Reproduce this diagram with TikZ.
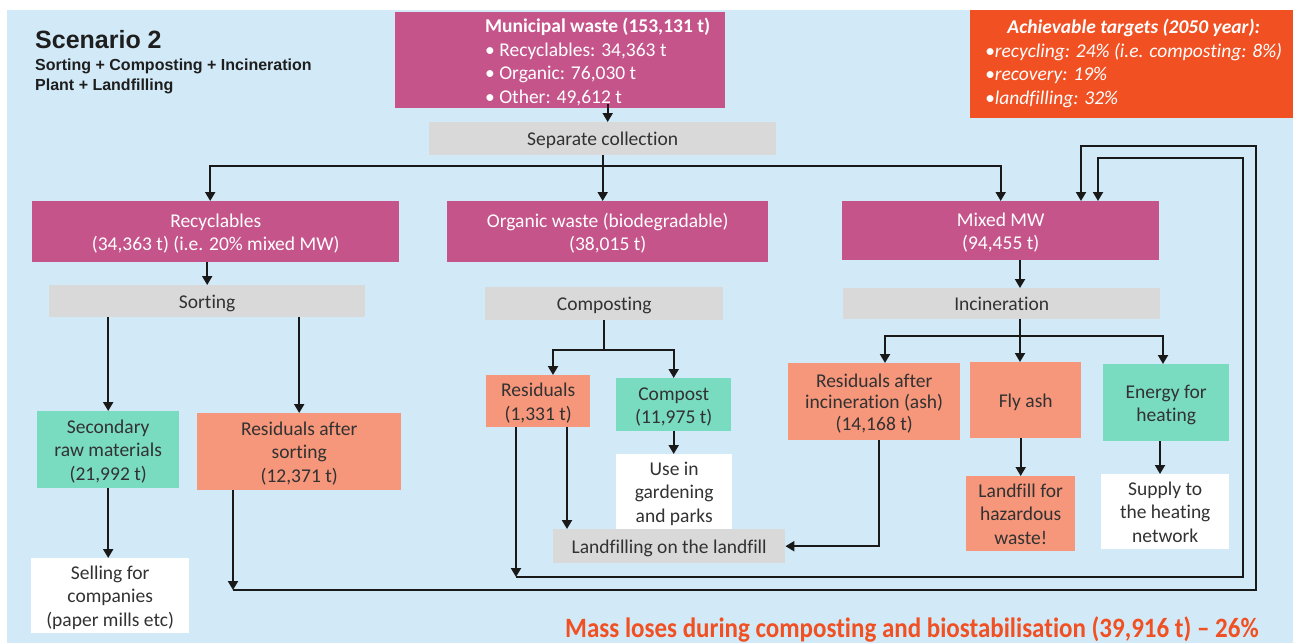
\documentclass[tikz,border=0pt]{standalone}
\usepackage{fontspec}
\setmainfont{Carlito}[Ligatures=NoCommon]
\newfontfamily\arialfont{Liberation Sans}
\usetikzlibrary{arrows.meta}
\definecolor{bgblue}{RGB}{210,233,247}
\definecolor{mag}{RGB}{197,84,138}
\definecolor{greybox}{RGB}{217,217,217}
\definecolor{greenbox}{RGB}{121,219,192}
\definecolor{salmon}{RGB}{246,150,122}
\definecolor{orangered}{RGB}{241,80,34}
\definecolor{txtgrey}{RGB}{50,50,50}
\definecolor{titlegrey}{RGB}{30,30,30}
\newcommand{\boxfont}{\fontsize{19.5}{23.5}\selectfont}
\newcommand{\bt}[1]{\raisebox{-2.5pt}[\height][\depth]{\begin{tabular}{@{}c@{}}#1\end{tabular}}}
\begin{document}
\begin{tikzpicture}[x=1pt,y=-1pt,
  box/.style={rectangle, anchor=north west, inner sep=2pt, align=center, text=txtgrey, font=\boxfont},
  arr/.style={line width=2pt, draw=black!90, -{Triangle[length=9pt,width=10pt]}},
  ln/.style={line width=2pt, draw=black!90}]
\fill[white] (0,0) rectangle (1293,643);
\fill[bgblue] (7,10) rectangle (1293,643);
\useasboundingbox (0,0) rectangle (1293,643);

% title
\node[anchor=base west, inner sep=0pt, text=titlegrey, font=\arialfont\bfseries\fontsize{25}{30}\selectfont] (title) at (35,48) {Scenario 2};
\node[anchor=north west, inner sep=0pt, text=titlegrey, font=\arialfont\bfseries\fontsize{16}{20}\selectfont] (sub) at (35,56) {\begin{tabular}{@{}l@{}}Sorting + Composting + Incineration\\Plant + Landfilling\end{tabular}};

% top boxes
\node[box, fill=mag, minimum width=330pt, minimum height=96pt] (mw) at (395,12) {};
\node[anchor=north west, inner sep=0pt, text=white, font=\boxfont] (mwt) at (485,16) {\begin{tabular}{@{}l@{}}\textbf{Municipal waste (153,131 t)}\\ • Recyclables: 34,363 t\\ • Organic: 76,030 t\\ • Other: 49,612 t\end{tabular}};

\node[box, fill=orangered, minimum width=323pt, minimum height=108pt] (tgt) at (970,10) {};
\node[anchor=north west, inner sep=0pt, text=white, font=\boxfont\itshape] (tgtt) at (985,17) {\begin{tabular}{@{}l@{}}\multicolumn{1}{@{}c@{}}{\bfseries Achievable targets (2050 year):}\\ •recycling: 24\% (i.e. composting: 8\%)\\ •recovery: 19\%\\ •landfilling: 32\%\end{tabular}};

\node[box, fill=greybox, minimum width=347pt, minimum height=33pt] (sep) at (429,122) {\bt{Separate collection}};

% level 2
\node[box, fill=mag, text=white, minimum width=367pt, minimum height=61pt] (rec) at (32,201) {\bt{Recyclables\\(34,363 t) (i.e. 20\% mixed MW)}};
\node[box, fill=mag, text=white, minimum width=321pt, minimum height=61pt] (org) at (447,201) {\bt{Organic waste (biodegradable)\\(38,015 t)}};
\node[box, fill=mag, text=white, minimum width=317pt, minimum height=59pt] (mix) at (842,201) {\bt{Mixed MW\\(94,455 t)}};

% processes
\node[box, fill=greybox, minimum width=316pt, minimum height=32pt] (sort) at (49,285) {\bt{Sorting}};
\node[box, fill=greybox, minimum width=238pt, minimum height=33pt] (comp) at (485,287) {\bt{Composting}};
\node[box, fill=greybox, minimum width=317pt, minimum height=31pt] (inc) at (843,288) {\bt{Incineration}};

% outputs
\node[box, fill=greenbox, minimum width=142pt, minimum height=77pt] (sec) at (37,411) {\bt{Secondary\\raw materials\\(21,992 t)}};
\node[box, fill=salmon, minimum width=204pt, minimum height=77pt] (ras) at (197,413) {\bt{Residuals after\\sorting\\(12,371 t)}};
\node[box, fill=white, minimum width=158pt, minimum height=71pt] (sell) at (31,558) {\bt{Selling for\\companies\\(paper mills etc)}};
\node[box, fill=salmon, minimum width=104pt, minimum height=52pt] (res) at (486,375) {\bt{Residuals\\(1,331 t)}};
\node[box, fill=greenbox, minimum width=115pt, minimum height=53pt] (cpst) at (616,378) {\bt{Compost\\(11,975 t)}};
\node[box, fill=white, minimum width=116pt, minimum height=65pt] (use) at (616,454) {\bt{Use in\\gardening\\and parks}};
\node[box, fill=greybox, minimum width=232pt, minimum height=34pt] (lf) at (553,529) {\bt{Landfilling on the landfill}};
\node[box, fill=salmon, minimum width=172pt, minimum height=77pt] (rai) at (788,363) {\bt{Residuals after\\[-2pt]incineration (ash)\\[-2pt](14,168 t)}};
\node[box, fill=salmon, minimum width=111pt, minimum height=76pt] (fly) at (970,362) {\bt{Fly ash}};
\node[box, fill=greenbox, minimum width=126pt, minimum height=77pt] (ener) at (1103,364) {\bt{Energy for\\heating}};
\node[box, fill=salmon, minimum width=109pt, minimum height=72pt] (haz) at (966,476) {\bt{Landfill for\\hazardous\\waste!}};
\node[box, fill=white, minimum width=128pt, minimum height=71pt] (sup) at (1101,474) {\bt{Supply to\\the heating\\network}};

% bottom text
\node[anchor=base west, inner sep=0pt, text=orangered, font=\bfseries\fontsize{25}{30}\selectfont] (mass) at (565,637.5) {\scalebox{1}[1.12]{Mass loses during composting and biostabilisation (39,916 t) – 26\%}};

% connectors
\coordinate (a1) at ([xshift=5pt]sep.north);
\draw[arr] ([yshift=4pt]a1 |- mw.south) -- (a1);
\draw[ln] (sep.south) -- ++(0,11) coordinate (j1);
\coordinate (a2) at ([xshift=-5.5pt]rec.north);
\draw[arr] (j1) -| (a2);
\draw[arr] (j1) -| (mix.north);
\draw[arr] (sep.south) -- (sep.south |- org.north);

\draw[arr] (sort.north |- rec.south) -- (sort.north);
\draw[arr] (sec.north |- sort.south) -- (sec.north);
\draw[arr] (ras.north |- sort.south) -- (ras.north);
\draw[arr] (sec.south) -- (sec.south |- sell.north);

% loop from residuals after sorting
\coordinate (b1) at (233,590);
\coordinate (r1) at (1256,146);
\coordinate (m1) at ([xshift=239pt]mix.north west);
\draw[arr] (b1 |- ras.south) -- (b1);
\draw[arr] (b1) -| (r1) -| (m1);

% loop from composting residuals
\coordinate (b2) at (516,577);
\coordinate (r2) at (1243,158);
\coordinate (m2) at ([xshift=256pt]mix.north west);
\draw[arr] (b2 |- res.south) -- (b2);
\draw[arr] (b2) -| (r2) -| (m2);

\coordinate (p1) at ([xshift=81pt]res.south west);
\draw[arr] (p1) -- (p1 |- lf.north);

% composting split
\draw[ln] (comp.south) -- ++(0,30) coordinate (j2);
\coordinate (q1) at ([xshift=67pt]res.north west);
\draw[arr] (j2) -| (q1);
\draw[arr] (j2) -| (cpst.north);
\draw[arr] (cpst.south) -- (cpst.south |- use.north);

% incineration residuals to landfill
\coordinate (q2) at ([xshift=91pt]rai.south west);
\draw[arr] (q2) |- (lf.east);

% mixed to incineration
\coordinate (q3) at ([xshift=178pt]mix.south west);
\draw[arr] (q3) -- (q3 |- inc.north);
\coordinate (j3) at ([xshift=177pt]inc.south west);
\draw[ln] (j3) -- ++(0,17) coordinate (j4);
\coordinate (q5) at ([xshift=97pt]rai.north west);
\coordinate (q6) at ([xshift=60pt]ener.north west);
\draw[arr] (j4) -| (q5);
\draw[arr] (j4) -- (j4 |- fly.north);
\draw[arr] (j4) -| (q6);

\draw[arr] (haz.north |- fly.south) -- (haz.north);
\coordinate (q4) at ([xshift=57pt]ener.south west);
\draw[arr] (q4) -- (q4 |- sup.north);
\end{tikzpicture}
\end{document}
